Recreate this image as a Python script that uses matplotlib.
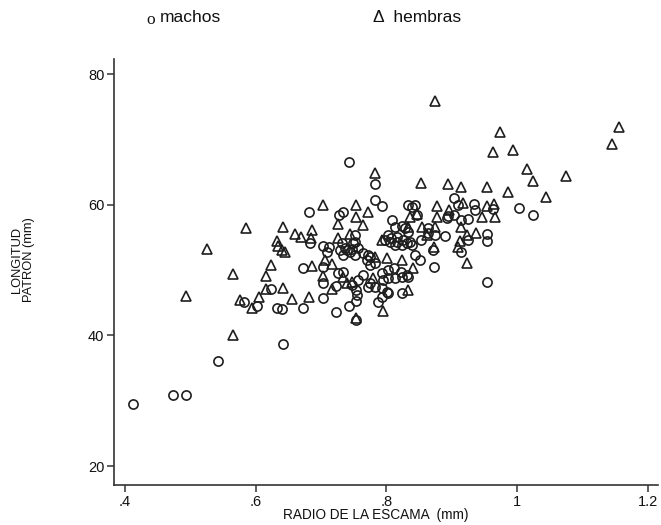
import matplotlib.pyplot as plt

plt.rcParams['font.family'] = ['Liberation Sans', 'DejaVu Sans']

# machos (circulos): radio de la escama (mm), longitud patron (mm)
machos_radio = [
    0.412, 0.474, 0.493, 0.542, 0.642, 0.743, 0.783, 0.783, 0.682, 0.727,
    0.734, 0.683, 0.794, 0.833, 0.844, 0.904, 0.910, 0.934, 0.936, 0.964,
    1.003, 1.025, 0.809, 0.893, 0.915, 0.925, 0.813, 0.824, 0.864, 0.890,
    0.954, 0.954, 0.798, 0.807, 0.817, 0.826, 0.836, 0.853, 0.624, 0.582,
    0.602, 0.633, 0.640, 0.673, 0.703, 0.723, 0.743, 0.754, 0.754, 0.673,
    0.703, 0.712, 0.709, 0.703, 0.703, 0.726, 0.734, 0.723, 0.740, 0.745,
    0.737, 0.754, 0.755, 0.749, 0.757, 0.764, 0.771, 0.775, 0.783, 0.775,
    0.772, 0.787, 0.794, 0.801, 0.794, 0.824, 0.803, 0.812, 0.823, 0.832,
    0.813, 0.803, 0.794, 0.895, 0.904, 0.864, 0.875, 0.925, 0.732, 0.752,
    0.752, 0.829, 0.803, 0.817, 0.833, 0.806, 0.813, 0.824, 0.832, 0.840,
    0.840, 0.844, 0.852, 0.873, 0.915, 0.954, 0.872, 0.824, 0.833, 0.795,
    0.783, 0.803, 0.775, 0.847, 0.729, 0.734, 0.748, 0.752, 0.772, 0.764,
    0.757, 0.748,
]
machos_longitud = [
    29.5, 30.9, 30.9, 36.1, 38.7, 66.6, 63.2, 60.7, 58.9, 58.4,
    58.9, 54.1, 59.8, 60.0, 60.0, 61.0, 60.0, 60.1, 59.2, 59.4,
    59.5, 58.4, 57.7, 58.0, 57.7, 57.8, 56.6, 56.8, 56.4, 55.2,
    55.5, 54.5, 54.6, 54.9, 54.3, 54.6, 54.3, 54.6, 47.1, 45.1,
    44.5, 44.2, 44.0, 44.2, 45.7, 43.6, 44.5, 45.3, 42.4, 50.3,
    53.7, 53.5, 52.8, 50.5, 48.0, 49.6, 49.7, 47.6, 53.1, 52.8,
    53.4, 47.0, 46.2, 54.1, 53.4, 52.6, 51.5, 50.8, 51.1, 48.0,
    47.4, 45.1, 47.3, 46.6, 45.9, 46.5, 50.0, 50.3, 49.7, 49.2,
    48.8, 48.8, 49.6, 58.3, 58.4, 55.7, 55.4, 54.6, 54.1, 55.4,
    54.3, 56.4, 55.4, 55.1, 55.8, 54.3, 53.8, 53.8, 54.1, 53.8,
    59.7, 52.3, 51.5, 50.5, 52.8, 48.2, 53.1, 48.9, 48.9, 48.5,
    47.4, 46.5, 52.0, 58.4, 53.1, 52.3, 53.2, 52.3, 52.3, 49.2,
    48.5, 47.7,
]

# hembras (triangulos)
hembras_radio = [
    0.875, 0.974, 0.964, 0.994, 1.157, 1.146, 1.016, 1.025, 1.075, 1.045,
    0.783, 0.853, 0.895, 0.915, 0.954, 0.987, 0.703, 0.754, 0.772, 0.754,
    0.726, 0.764, 0.585, 0.642, 0.660, 0.670, 0.686, 0.685, 0.633, 0.526,
    0.878, 0.896, 0.918, 0.954, 0.965, 0.967, 0.947, 0.847, 0.836, 0.878,
    0.833, 0.855, 0.875, 0.915, 0.938, 0.924, 0.913, 0.794, 0.862, 0.873,
    0.910, 0.565, 0.493, 0.565, 0.624, 0.616, 0.616, 0.642, 0.576, 0.605,
    0.594, 0.656, 0.682, 0.640, 0.645, 0.686, 0.706, 0.717, 0.703, 0.734,
    0.717, 0.740, 0.748, 0.780, 0.795, 0.841, 0.824, 0.783, 0.801, 0.833,
    0.924, 0.745, 0.726, 0.634, 0.754,
]
hembras_longitud = [
    75.9, 71.1, 68.1, 68.4, 71.9, 69.3, 65.5, 63.6, 64.4, 61.2,
    64.9, 63.3, 63.2, 62.7, 62.7, 62.0, 60.0, 60.0, 58.9, 58.1,
    57.1, 56.9, 56.4, 56.6, 55.5, 55.1, 56.1, 54.9, 54.5, 53.2,
    59.8, 59.2, 60.3, 59.8, 60.1, 58.1, 58.1, 58.6, 58.1, 58.1,
    56.6, 56.6, 56.6, 56.6, 55.7, 55.4, 54.5, 54.6, 55.4, 53.5,
    53.5, 49.4, 46.0, 40.1, 50.8, 49.1, 47.1, 47.3, 45.4, 45.9,
    44.2, 45.6, 45.9, 53.1, 52.8, 50.6, 51.5, 50.9, 49.1, 48.9,
    47.1, 48.0, 48.2, 48.8, 43.7, 50.3, 51.5, 52.0, 51.9, 47.0,
    51.1, 55.5, 54.9, 53.7, 42.7,
]

xticks = [0.4, 0.6, 0.8, 1.0, 1.2]
xtick_labels = ['.4', '.6', '.8', '1', '1.2']
yticks = [20, 40, 60, 80]

ink = '#1e1e1e'

fig = plt.figure(figsize=(6.61, 5.25), dpi=100)
ax = fig.add_axes([0.1725, 0.0762, 0.823, 0.8114])

ax.plot(machos_radio, machos_longitud, linestyle='none', marker='o',
        markersize=6.6, markerfacecolor='none', markeredgecolor=ink,
        markeredgewidth=1.2)
ax.plot(hembras_radio, hembras_longitud, linestyle='none', marker='^',
        markersize=6.6, markerfacecolor='none', markeredgecolor=ink,
        markeredgewidth=1.2)

ax.set_xlim(0.383, 1.216)
ax.set_ylim(17.1, 82.3)
ax.set_xticks(xticks)
ax.set_xticklabels(xtick_labels)
ax.set_yticks(yticks)

for side in ['top', 'right']:
    ax.spines[side].set_visible(False)
for side in ['left', 'bottom']:
    ax.spines[side].set_linewidth(1.2)
    ax.spines[side].set_color('#333333')

ax.tick_params(direction='out', length=5, width=1.1, color='#333333',
               labelsize=10.5, labelcolor='#111111', pad=2)

# etiquetas de ejes
fig.text(376 / 661, 1 - 515 / 525, 'RADIO DE LA ESCAMA  (mm)',
         ha='center', va='center', fontsize=9.8, color='#111111')
fig.text(23 / 661, 1 - 260 / 525, 'LONGITUD\nPATRON (mm)', rotation=90,
         ha='center', va='center', multialignment='center', fontsize=9.3,
         color='#111111', linespacing=1.1)

# leyenda en la parte superior
fig.text(146 / 661, 1 - 20 / 525, 'o', fontsize=12.5, family='Liberation Serif',
         ha='left', va='center', color='#111111')
fig.text(160 / 661, 1 - 18 / 525, 'machos', fontsize=12.5,
         ha='left', va='center', color='#111111')
fig.text(373 / 661, 1 - 18 / 525, '\u0394  hembras', fontsize=12.5,
         ha='left', va='center', color='#111111')

fig.savefig('out.png', dpi=100, facecolor='white')
